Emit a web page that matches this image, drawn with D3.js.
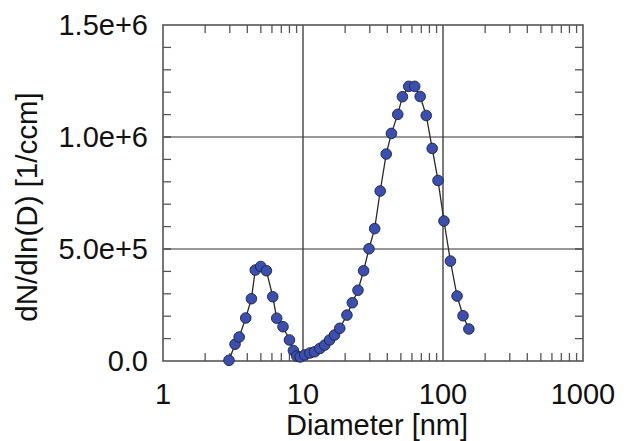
<!DOCTYPE html>
<html>
<head>
<meta charset="utf-8">
<script src="https://cdn.jsdelivr.net/npm/d3@7"></script>
<style>
  body { margin: 0; background: #fff; }
  text { font-family: "Liberation Sans", Arial, sans-serif; fill: #111; }
</style>
</head>
<body>
<svg width="633" height="441"></svg>
<script>

// size distribution
var diameters = [2.96, 3.27, 3.50, 3.90, 4.28, 4.56, 4.99, 5.48, 6.08, 6.49, 7.20, 8.0, 8.54, 9.02,
  9.55, 10.3, 11.2, 12.1, 13.2, 14.3, 15.5, 16.8, 18.3, 20.6, 22.5, 24.7, 27.1, 29.6, 32.5,
  35.6, 39.3, 42.8, 47.5, 51.3, 56.9, 62.8, 68.7, 75.9, 83.7, 92.1, 101.6, 113, 126, 139, 153];
var counts = [3000, 75000, 107000, 192000, 278000, 406000, 422000, 403000, 287000, 191000, 153000, 94000, 47000, 22000,
  18000, 27000, 36000, 41000, 56000, 71000, 94000, 116000, 146000, 205000, 260000, 316000, 403000, 501000, 591000,
  759000, 924000, 1016000, 1101000, 1180000, 1226000, 1226000, 1181000, 1096000, 949000, 806000, 625000, 446000, 290000, 202000, 143000];

var xTicks = [1, 10, 100, 1000];
var yTicks = [0, 5e5, 1e6, 1.5e6];
var yTickLabels = ["0.0", "5.0e+5", "1.0e+6", "1.5e+6"];
var xGrid = [10, 100];
var yGrid = [5e5, 1e6];

var points = diameters.map(function(d, i) { return {d: d, n: counts[i]}; });

var svg = d3.select("svg");
// (window.top is read-only, so no "top" here)
var pLeft = 163, pRight = 583, pTop = 25, pBottom = 361;

var x = d3.scaleLog().domain([1, 1000]).range([pLeft, pRight]);
var y = d3.scaleLinear().domain([0, 1.5e6]).range([pBottom, pTop]);

// minor ticks
var xMinor = [];
[1, 10, 100].forEach(function(dec) {
  for (var k = 2; k <= 9; k++) xMinor.push(dec * k);
});
var yMinor = d3.range(1e5, 1.5e6, 1e5);

var tickLen = 8;
var g = svg.append("g").attr("stroke", "#555").attr("stroke-width", 1.3);

g.selectAll(".xb").data(xMinor).enter().append("line")
  .attr("x1", function(d) { return x(d); }).attr("x2", function(d) { return x(d); })
  .attr("y1", pBottom).attr("y2", pBottom - tickLen);
g.selectAll(".xt").data(xMinor).enter().append("line")
  .attr("x1", function(d) { return x(d); }).attr("x2", function(d) { return x(d); })
  .attr("y1", pTop).attr("y2", pTop + tickLen);
g.selectAll(".yl").data(yMinor).enter().append("line")
  .attr("x1", pLeft).attr("x2", pLeft + tickLen)
  .attr("y1", function(d) { return y(d); }).attr("y2", function(d) { return y(d); });
g.selectAll(".yr").data(yMinor).enter().append("line")
  .attr("x1", pRight).attr("x2", pRight - tickLen)
  .attr("y1", function(d) { return y(d); }).attr("y2", function(d) { return y(d); });

// grid
svg.append("g").selectAll("line").data(xGrid).enter().append("line")
  .attr("x1", function(d) { return x(d); }).attr("x2", function(d) { return x(d); })
  .attr("y1", pTop).attr("y2", pBottom)
  .attr("stroke", "#222").attr("stroke-width", 1.2);
svg.append("g").selectAll("line").data(yGrid).enter().append("line")
  .attr("x1", pLeft).attr("x2", pRight)
  .attr("y1", function(d) { return y(d); }).attr("y2", function(d) { return y(d); })
  .attr("stroke", "#333").attr("stroke-width", 1.2);

// frame
svg.append("rect")
  .attr("x", pLeft).attr("y", pTop)
  .attr("width", pRight - pLeft).attr("height", pBottom - pTop)
  .attr("fill", "none").attr("stroke", "#555").attr("stroke-width", 1.6);

// tick labels
svg.append("g").selectAll("text").data(xTicks).enter().append("text")
  .attr("x", function(d) { return x(d); })
  .attr("y", 404)
  .attr("text-anchor", "middle")
  .attr("font-size", 29)
  .text(function(d) { return d; });

svg.append("g").selectAll("text").data(yTicks).enter().append("text")
  .attr("x", 148)
  .attr("y", function(d) { return y(d); })
  .attr("dy", "0.36em")
  .attr("text-anchor", "end")
  .attr("font-size", 29)
  .text(function(d, i) { return yTickLabels[i]; });

// axis titles
svg.append("text")
  .attr("x", 377).attr("y", 435)
  .attr("text-anchor", "middle")
  .attr("font-size", 29)
  .text("Diameter [nm]");

svg.append("text")
  .attr("transform", "translate(37,207) rotate(-90)")
  .attr("text-anchor", "middle")
  .attr("font-size", 29.5)
  .text("dN/dln(D) [1/ccm]");

// data
var line = d3.line()
  .x(function(d) { return x(d.d); })
  .y(function(d) { return y(d.n); });

svg.append("path")
  .datum(points)
  .attr("d", line)
  .attr("fill", "none")
  .attr("stroke", "#2a2a2a")
  .attr("stroke-width", 1.3);

svg.append("g").selectAll("circle").data(points).enter().append("circle")
  .attr("cx", function(d) { return x(d.d); })
  .attr("cy", function(d) { return y(d.n); })
  .attr("r", 5.3)
  .attr("fill", "#3a4fb0")
  .attr("stroke", "#1c2240")
  .attr("stroke-width", 0.9);

</script>
</body>
</html>
